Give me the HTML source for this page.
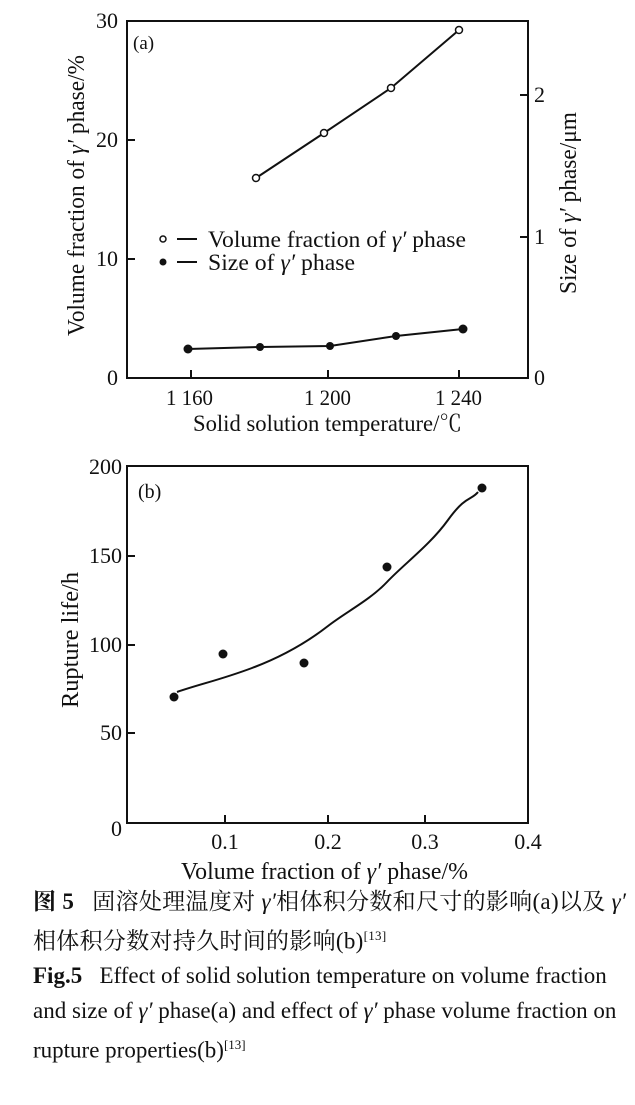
<!DOCTYPE html>
<html><head><meta charset="utf-8"><style>
body{margin:0;background:#fff;width:635px;height:1105px;overflow:hidden}
svg{position:absolute;left:0;top:0}
text{font-family:"Liberation Serif","Noto Serif CJK SC",serif;fill:#111}
.cap{position:absolute;left:33px;font-family:"Liberation Serif","Noto Serif CJK SC",serif;font-size:23px;color:#111;white-space:nowrap;line-height:26px}
</style></head><body>
<svg width="635" height="1105" viewBox="0 0 635 1105">
<g stroke="#111" stroke-width="2" fill="none">
<rect x="127" y="21" width="401" height="357"/>
<path d="M127 140h8M127 259h8M528 95h-8M528 237h-8M191 378v-8M328 378v-8M459 378v-8"/>
<polyline points="256,178 324,133 391,88 459,30"/>
<polyline points="188,349 260,347 330,346 396,336 463,329"/>
<path d="M177 239h20M177 262h20"/>
</g>
<g stroke="#111" stroke-width="1.5" fill="#fff">
<circle cx="256" cy="178" r="3.5"/><circle cx="324" cy="133" r="3.5"/><circle cx="391" cy="88" r="3.5"/><circle cx="459" cy="30" r="3.5"/>
<circle cx="163" cy="239" r="3"/>
</g>
<g fill="#111">
<circle cx="188" cy="349" r="4.5"/><circle cx="260" cy="347" r="4"/><circle cx="330" cy="346" r="4"/><circle cx="396" cy="336" r="4"/><circle cx="463" cy="329" r="4.5"/>
<circle cx="163" cy="262" r="3.5"/>
</g>
<g font-size="22">
<text x="118" y="28" text-anchor="end" textLength="22" lengthAdjust="spacingAndGlyphs">30</text>
<text x="118" y="147" text-anchor="end" textLength="22" lengthAdjust="spacingAndGlyphs">20</text>
<text x="118" y="266" text-anchor="end" textLength="22" lengthAdjust="spacingAndGlyphs">10</text>
<text x="118" y="385" text-anchor="end">0</text>
<text x="534" y="102">2</text>
<text x="534" y="244">1</text>
<text x="534" y="385">0</text>
<text x="166" y="405" textLength="47" lengthAdjust="spacingAndGlyphs">1 160</text>
<text x="304" y="405" textLength="47" lengthAdjust="spacingAndGlyphs">1 200</text>
<text x="435" y="405" textLength="47" lengthAdjust="spacingAndGlyphs">1 240</text>
</g>
<text x="133" y="49" font-size="19">(a)</text>
<text x="208" y="247" font-size="23" textLength="258" lengthAdjust="spacingAndGlyphs">Volume fraction of <tspan font-style="italic">γ′</tspan> phase</text>
<text x="208" y="270" font-size="23" textLength="147" lengthAdjust="spacingAndGlyphs">Size of <tspan font-style="italic">γ′</tspan> phase</text>
<text x="193" y="431" font-size="23" textLength="269" lengthAdjust="spacingAndGlyphs">Solid solution temperature/℃</text>
<text transform="translate(84,336) rotate(-90)" font-size="24" textLength="281" lengthAdjust="spacingAndGlyphs">Volume fraction of <tspan font-style="italic">γ′</tspan> phase/%</text>
<text transform="translate(576,294) rotate(-90)" font-size="24" textLength="182" lengthAdjust="spacingAndGlyphs">Size of <tspan font-style="italic">γ′</tspan> phase/μm</text>

<g stroke="#111" stroke-width="2" fill="none">
<rect x="127" y="466" width="401" height="357"/>
<path d="M127 556h8M127 645h8M127 733h8M225 823v-8M328 823v-8M425 823v-8"/>
<path d="M177 692 C200 684,220 680,252 668 S310 640,328 626 S370 600,387 582 S430 545,448 520 S472 500,478 492"/>
</g>
<g fill="#111">
<circle cx="174" cy="697" r="4.5"/><circle cx="223" cy="654" r="4.5"/><circle cx="304" cy="663" r="4.5"/><circle cx="387" cy="567" r="4.5"/><circle cx="482" cy="488" r="4.5"/>
</g>
<g font-size="22">
<text x="122" y="474" text-anchor="end" textLength="33" lengthAdjust="spacingAndGlyphs">200</text>
<text x="122" y="563" text-anchor="end" textLength="33" lengthAdjust="spacingAndGlyphs">150</text>
<text x="122" y="652" text-anchor="end" textLength="33" lengthAdjust="spacingAndGlyphs">100</text>
<text x="122" y="740" text-anchor="end" textLength="22" lengthAdjust="spacingAndGlyphs">50</text>
<text x="122" y="836" text-anchor="end">0</text>
<text x="225" y="849" text-anchor="middle">0.1</text>
<text x="328" y="849" text-anchor="middle">0.2</text>
<text x="425" y="849" text-anchor="middle">0.3</text>
<text x="528" y="849" text-anchor="middle">0.4</text>
</g>
<text x="138" y="498" font-size="20">(b)</text>
<text transform="translate(78,708) rotate(-90)" font-size="24" textLength="136" lengthAdjust="spacingAndGlyphs">Rupture life/h</text>
<text x="181" y="879" font-size="24" textLength="287" lengthAdjust="spacingAndGlyphs">Volume fraction of <tspan font-style="italic">γ′</tspan> phase/%</text>
</svg>
<div class="cap" style="top:889px;letter-spacing:0.3px"><b>图 5</b>&nbsp;&nbsp;&nbsp;固溶处理温度对 <i>γ′</i>相体积分数和尺寸的影响(a)以及 <i>γ′</i></div>
<div class="cap" style="top:923px;letter-spacing:0.3px">相体积分数对持久时间的影响(b)<sup style="font-size:13px">[13]</sup></div>
<div class="cap" style="top:963px"><b>Fig.5</b>&nbsp;&nbsp;&nbsp;Effect of solid solution temperature on volume fraction</div>
<div class="cap" style="top:998px">and size of <i>γ′</i> phase(a) and effect of <i>γ′</i> phase volume fraction on</div>
<div class="cap" style="top:1032px">rupture properties(b)<sup style="font-size:13px">[13]</sup></div>
</body></html>
